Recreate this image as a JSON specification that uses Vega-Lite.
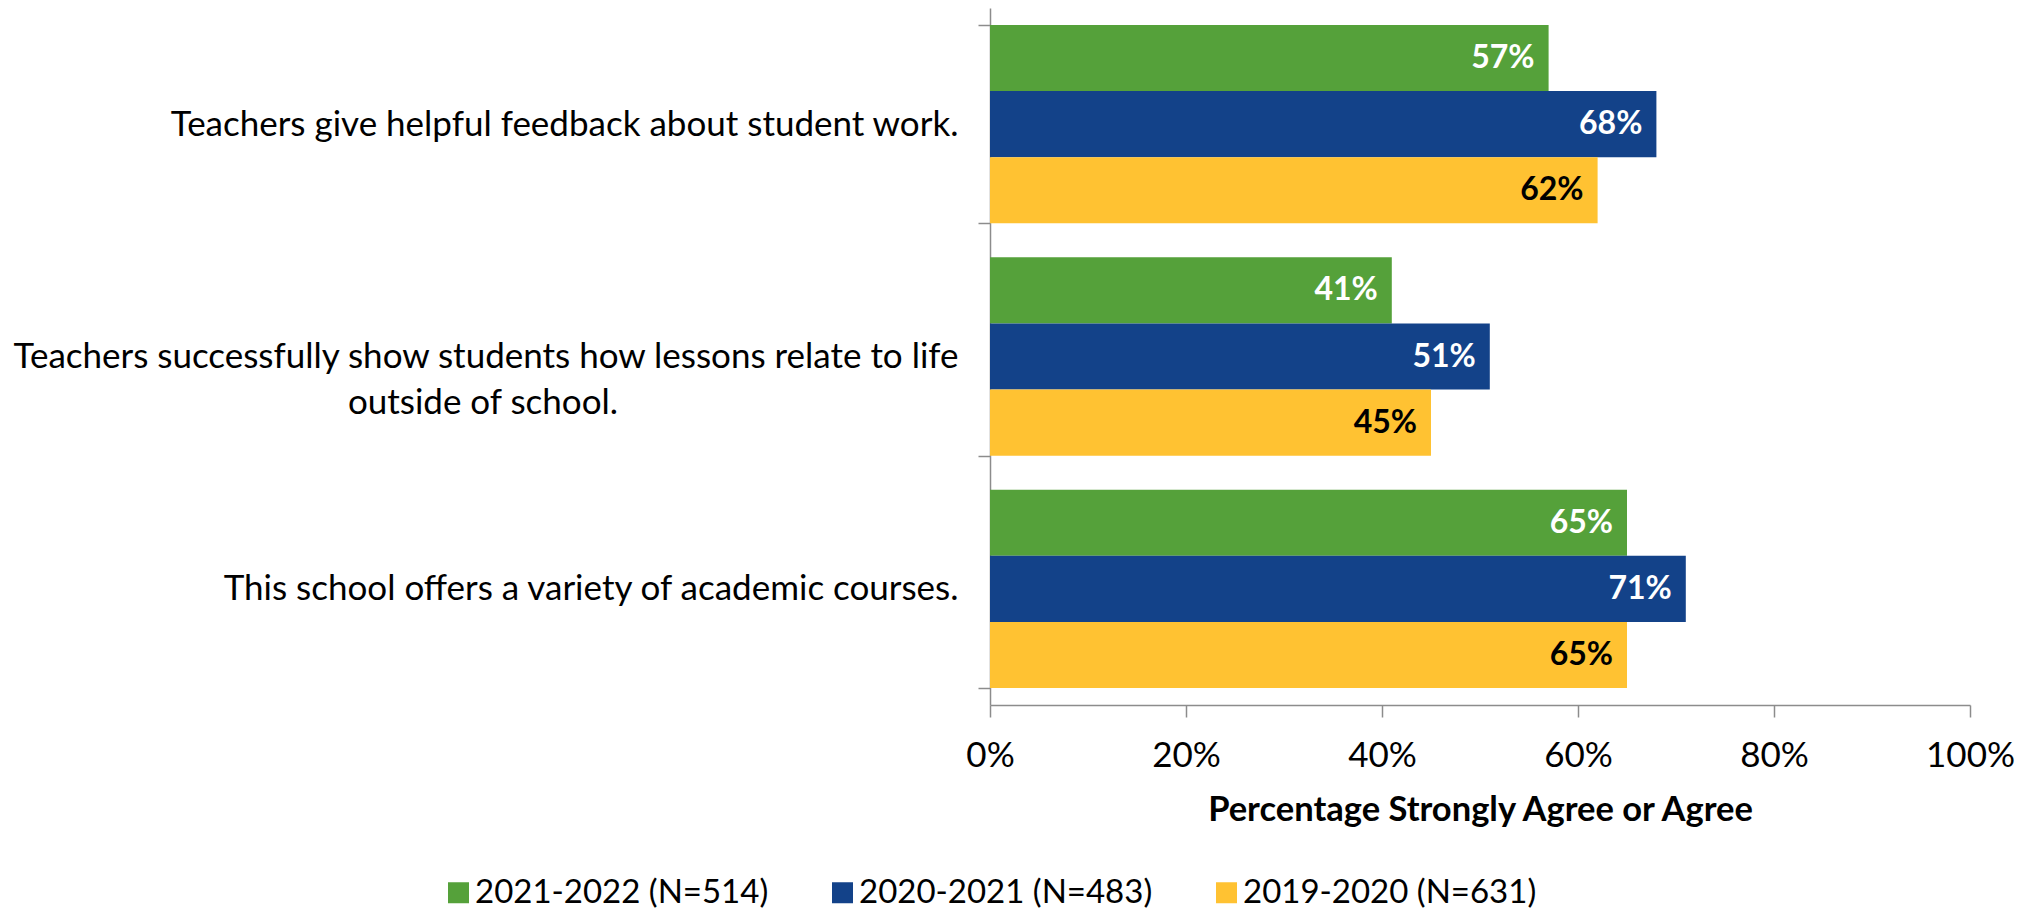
{
  "$schema": "https://vega.github.io/schema/vega-lite/v6.json",
  "width": 980,
  "height": 697,
  "autosize": {"type": "none"},
  "padding": {"left": 990, "top": 8, "right": 65, "bottom": 205},
  "background": "white",
  "config": {"view": {"stroke": null}, "font": "Lato"},
  "data": {
    "values": [
      {"statement": "Teachers give helpful feedback about student work.", "year": "2021-2022 (N=514)", "pct": 0.57},
      {"statement": "Teachers give helpful feedback about student work.", "year": "2020-2021 (N=483)", "pct": 0.68},
      {"statement": "Teachers give helpful feedback about student work.", "year": "2019-2020 (N=631)", "pct": 0.62},
      {"statement": "Teachers successfully show students how lessons relate to life outside of school.", "year": "2021-2022 (N=514)", "pct": 0.41},
      {"statement": "Teachers successfully show students how lessons relate to life outside of school.", "year": "2020-2021 (N=483)", "pct": 0.51},
      {"statement": "Teachers successfully show students how lessons relate to life outside of school.", "year": "2019-2020 (N=631)", "pct": 0.45},
      {"statement": "This school offers a variety of academic courses.", "year": "2021-2022 (N=514)", "pct": 0.65},
      {"statement": "This school offers a variety of academic courses.", "year": "2020-2021 (N=483)", "pct": 0.71},
      {"statement": "This school offers a variety of academic courses.", "year": "2019-2020 (N=631)", "pct": 0.65}
    ]
  },
  "encoding": {
    "y": {
      "field": "statement",
      "type": "nominal",
      "sort": null,
      "scale": {"paddingInner": 0.146, "paddingOuter": 0.073},
      "axis": {
        "title": null,
        "labelFont": "Lato",
        "labelFontSize": 35,
        "labelColor": "black",
        "labelPadding": 20,
        "labelLimit": 1200,
        "labelLineHeight": 46,
        "labelExpr": "datum.label == 'Teachers successfully show students how lessons relate to life outside of school.' ? ['Teachers successfully show students how lessons relate to life', pad('outside of school.', 56, '\u00a0') + '\u200b'] : datum.label",
        "tickBand": "extent",
        "tickSize": 12,
        "tickColor": "#8c8c8c",
        "tickWidth": 1.5,
        "domainColor": "#8c8c8c",
        "domainWidth": 1.5
      }
    },
    "yOffset": {
      "field": "year",
      "type": "nominal",
      "sort": ["2021-2022 (N=514)", "2020-2021 (N=483)", "2019-2020 (N=631)"]
    },
    "x": {
      "field": "pct",
      "type": "quantitative",
      "scale": {"domain": [0, 1]},
      "axis": {
        "title": "Percentage Strongly Agree or Agree",
        "titleFont": "Lato",
        "titleFontSize": 34.5,
        "titleFontWeight": "bold",
        "titleColor": "black",
        "titlePadding": 20,
        "format": ".0%",
        "values": [0, 0.2, 0.4, 0.6, 0.8, 1],
        "labelFlush": false,
        "grid": false,
        "labelFont": "Lato",
        "labelFontSize": 35,
        "labelColor": "black",
        "labelPadding": 21,
        "tickSize": 12,
        "tickColor": "#8c8c8c",
        "tickWidth": 1.5,
        "domainColor": "#8c8c8c",
        "domainWidth": 1.5
      }
    }
  },
  "layer": [
    {
      "mark": {"type": "bar"},
      "encoding": {
        "color": {
          "field": "year",
          "type": "nominal",
          "scale": {
            "domain": ["2021-2022 (N=514)", "2020-2021 (N=483)", "2019-2020 (N=631)"],
            "range": ["#55A13A", "#134289", "#FFC232"]
          },
          "legend": {
            "orient": "none",
            "legendX": -548,
            "legendY": 868,
            "direction": "horizontal",
            "title": null,
            "padding": 0,
            "symbolType": "square",
            "symbolSize": 441,
            "symbolStrokeWidth": 0,
            "labelFont": "Lato",
            "labelFontSize": 33,
            "labelColor": "black",
            "labelOffset": 0,
            "labelLimit": 1000,
            "columnPadding": 57
          }
        }
      }
    },
    {
      "mark": {"type": "text", "align": "right", "baseline": "middle", "dx": -14, "font": "Lato", "fontWeight": "bold", "fontSize": 32},
      "encoding": {
        "text": {"field": "pct", "type": "quantitative", "format": ".0%"},
        "color": {
          "condition": {"test": "datum.year == '2019-2020 (N=631)'", "value": "black"},
          "value": "white"
        }
      }
    }
  ]
}
